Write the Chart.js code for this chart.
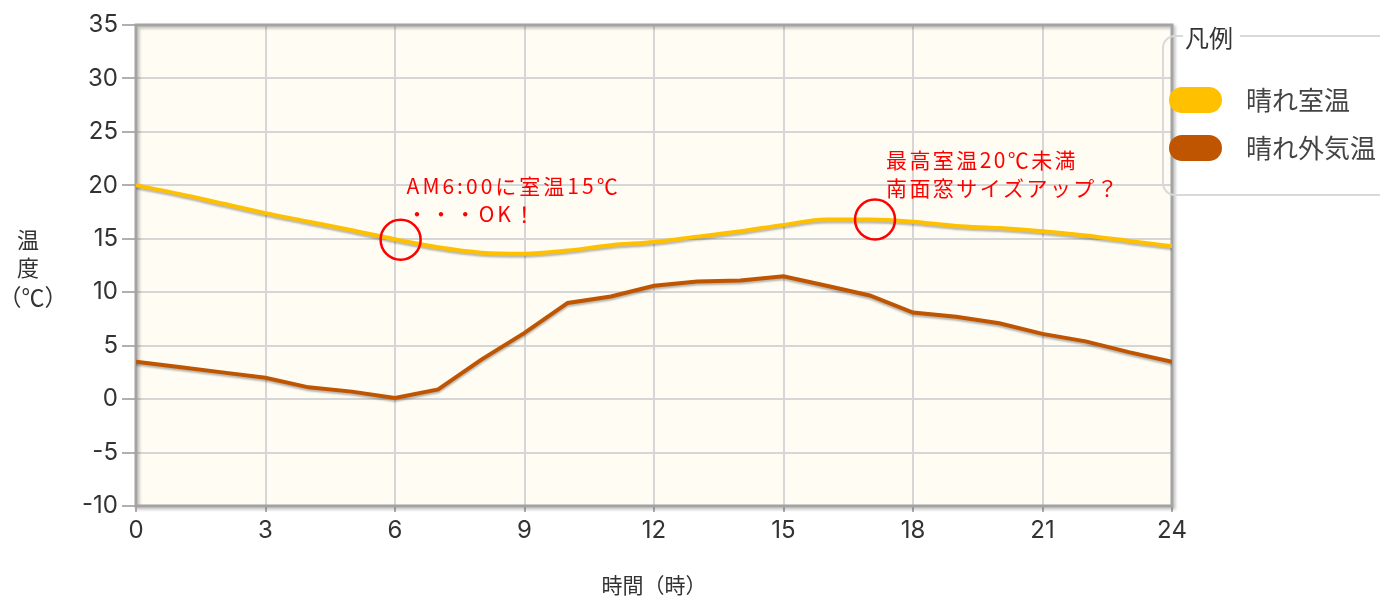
<!DOCTYPE html>
<html>
<head>
<meta charset="utf-8">
<script src="https://cdn.jsdelivr.net/npm/chart.js@4/dist/chart.umd.min.js"></script>
<style>
  html, body { margin: 0; padding: 0; background: #fff; }
  #wrap { position: relative; width: 1380px; height: 600px; }
</style>
</head>
<body>
<div id="wrap"><canvas id="chart" width="1380" height="600"></canvas></div>
<script>
// data
var hours = [0,1,2,3,4,5,6,7,8,9,10,11,12,13,14,15,16,17,18,19,20,21,22,23,24];
var roomTemp = [20.0,19.2,18.3,17.4,16.6,15.8,14.95,14.2,13.7,13.6,13.9,14.4,14.7,15.2,15.7,16.3,16.8,16.8,16.6,16.2,16.0,15.7,15.3,14.8,14.3];
var outdoorTemp = [3.5,3.0,2.5,2.0,1.1,0.7,0.1,0.9,3.7,6.2,9.0,9.6,10.6,11.0,11.1,11.5,10.6,9.7,8.1,7.7,7.1,6.1,5.4,4.4,3.5];
var seriesNames = ['晴れ室温', '晴れ外気温'];
var seriesColors = ['#FFC000', '#BF5500'];
var notes = [
  {x: 6.13, y: 14.9, lines: ['AM6:00に室温15℃', '・・・OK！'], dx: 6, dy: -54, w: 214},
  {x: 17.12, y: 16.8, lines: ['最高室温20℃未満', '南面窓サイズアップ？'], dx: 11, dy: -60, w: 192}
];

var font = '"Noto Sans CJK JP", "Noto Sans", sans-serif';
var numFont = 'Inter, "Noto Sans CJK JP", sans-serif';

function pts(ys) {
  return ys.map(function (v, i) { return {x: hours[i], y: v}; });
}

// cream plot background + border
var plotBg = {
  id: 'plotBg',
  beforeDraw: function (chart) {
    var a = chart.chartArea, ctx = chart.ctx;
    ctx.save();
    ctx.fillStyle = '#FFFCF4';
    ctx.fillRect(a.left, a.top, a.right - a.left, a.bottom - a.top);
    ctx.restore();
  },
  beforeDatasetsDraw: function (chart) {
    var a = chart.chartArea, ctx = chart.ctx;
    ctx.save();
    ctx.shadowColor = 'rgba(0,0,0,0.25)';
    ctx.shadowBlur = 3;
    ctx.shadowOffsetX = 2;
    ctx.shadowOffsetY = 2;
    ctx.strokeStyle = '#A3A3A3';
    ctx.lineWidth = 3;
    ctx.strokeRect(a.left, a.top, a.right - a.left, a.bottom - a.top);
    ctx.restore();
  }
};

// soft shadow under lines
var lineShadow = {
  id: 'lineShadow',
  beforeDatasetDraw: function (chart) {
    var ctx = chart.ctx;
    ctx.save();
    ctx.shadowColor = 'rgba(0,0,0,0.28)';
    ctx.shadowBlur = 2;
    ctx.shadowOffsetY = 2;
  },
  afterDatasetDraw: function (chart) {
    chart.ctx.restore();
  }
};

// red circles and notes
var notesPlugin = {
  id: 'notes',
  afterDatasetsDraw: function (chart) {
    var ctx = chart.ctx, sx = chart.scales.x, sy = chart.scales.y;
    ctx.save();
    notes.forEach(function (n) {
      var px = sx.getPixelForValue(n.x), py = sy.getPixelForValue(n.y);
      ctx.beginPath();
      ctx.arc(px, py, 20, 0, Math.PI * 2);
      ctx.strokeStyle = '#FF0000';
      ctx.lineWidth = 2.5;
      ctx.stroke();
      ctx.fillStyle = '#FF0000';
      ctx.font = '21px ' + font;
      ctx.textBaseline = 'middle';
      ctx.textAlign = 'left';
      var first = n.lines[0];
      ctx.letterSpacing = '0px';
      var w = ctx.measureText(first).width;
      var sp = Math.max(0, (n.w - w) / first.length);
      ctx.letterSpacing = sp.toFixed(2) + 'px';
      n.lines.forEach(function (t, i) {
        ctx.fillText(t, px + n.dx, py + n.dy + i * 28);
      });
    });
    ctx.restore();
  }
};

// y title + legend box
var extras = {
  id: 'extras',
  afterDraw: function (chart) {
    var ctx = chart.ctx;
    ctx.save();
    ctx.fillStyle = '#333';
    ctx.font = '22px ' + font;
    ctx.textAlign = 'center';
    ctx.textBaseline = 'middle';
    ctx.fillText('温', 28, 240);
    ctx.fillText('度', 28, 268);
    ctx.font = '23px ' + font;
    ctx.fillText('（℃）', 33, 297);

    // legend frame
    var L = 1163, T = 36, B = 195, R = 1380, r = 12;
    ctx.strokeStyle = '#D9D9D9';
    ctx.lineWidth = 2;
    ctx.beginPath();
    ctx.moveTo(1183, T);
    ctx.lineTo(L + r, T);
    ctx.arcTo(L, T, L, T + r, r);
    ctx.lineTo(L, B - r);
    ctx.arcTo(L, B, L + r, B, r);
    ctx.lineTo(R, B);
    ctx.moveTo(1240, T);
    ctx.lineTo(R, T);
    ctx.stroke();

    ctx.fillStyle = '#333';
    ctx.font = '24px ' + font;
    ctx.textAlign = 'left';
    ctx.fillText('凡例', 1185, T + 2);

    chart.data.datasets.forEach(function (ds, i) {
      var cy = 100 + i * 48;
      ctx.beginPath();
      ctx.moveTo(1182, cy - 13);
      ctx.lineTo(1209, cy - 13);
      ctx.arc(1209, cy, 13, -Math.PI / 2, Math.PI / 2);
      ctx.lineTo(1182, cy + 13);
      ctx.arc(1182, cy, 13, Math.PI / 2, Math.PI * 1.5);
      ctx.closePath();
      ctx.fillStyle = ds.borderColor;
      ctx.fill();
      ctx.fillStyle = '#444';
      ctx.font = '26px ' + font;
      ctx.fillText(ds.label, 1246, cy);
    });
    ctx.restore();
  }
};

var ctx = document.getElementById('chart').getContext('2d');
var chart = new Chart(ctx, {
  type: 'line',
  data: {
    datasets: [{
      label: seriesNames[0],
      data: pts(roomTemp),
      borderColor: seriesColors[0],
      borderWidth: 4,
      pointRadius: 0,
      tension: 0.4,
      cubicInterpolationMode: 'monotone',
      fill: false
    }, {
      label: seriesNames[1],
      data: pts(outdoorTemp),
      borderColor: seriesColors[1],
      borderWidth: 4,
      pointRadius: 0,
      tension: 0,
      fill: false
    }]
  },
  options: {
    responsive: false,
    animation: false,
    layout: {padding: {left: 0, right: 208, top: 25, bottom: 0}},
    plugins: {legend: {display: false}, tooltip: {enabled: false}},
    scales: {
      x: {
        type: 'linear',
        min: 0, max: 24,
        afterFit: function (s) { s.height = 94; },
        ticks: {stepSize: 3, color: '#333', font: {size: 24, family: numFont}, padding: 4},
        grid: {color: '#D6D6D6', lineWidth: 2, tickLength: 6, tickColor: '#B0B0B0'},
        border: {display: false},
        title: {display: true, text: '時間（時）', color: '#333', font: {size: 21, family: font}, padding: {top: 0, bottom: 2}}
      },
      y: {
        min: -10, max: 35,
        afterFit: function (s) { s.width = 136; },
        ticks: {stepSize: 5, color: '#333', font: {size: 24, family: numFont}, padding: 4},
        grid: {color: '#D6D6D6', lineWidth: 2, tickLength: 14, tickColor: '#B0B0B0'},
        border: {display: false}
      }
    }
  },
  plugins: [plotBg, lineShadow, notesPlugin, extras]
});
</script>
</body>
</html>
